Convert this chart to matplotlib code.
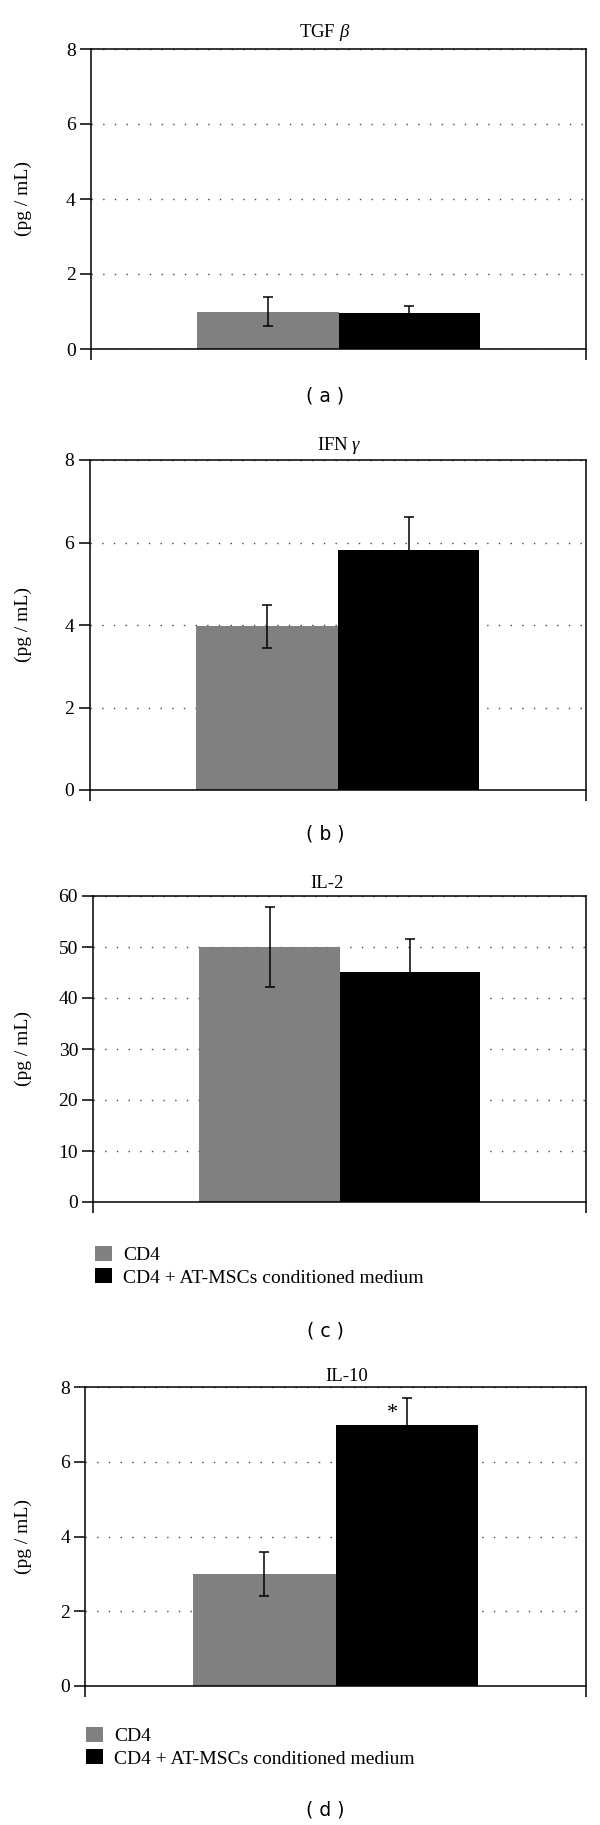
import matplotlib
matplotlib.use("Agg")
import matplotlib.pyplot as plt
from matplotlib.patches import Patch

plt.rcParams['font.family'] = ['Liberation Serif', 'DejaVu Serif']
plt.rcParams['mathtext.fontset'] = 'custom'
plt.rcParams['mathtext.rm'] = 'Liberation Serif'
plt.rcParams['mathtext.it'] = 'Liberation Serif:italic'

# data
groups = ['CD4', 'CD4 + AT-MSCs conditioned medium']
colors = ['#808080', '#000000']

titles = ['TGF $\\it{\\beta}$', 'IFN $\\it{\\gamma}$', 'IL-2', 'IL-10']
panel_tags = ['( a )', '( b )', '( c )', '( d )']

tgf_mean = [1.0, 0.97]
tgf_err = [0.39, 0.18]
ifn_mean = [3.97, 5.82]
ifn_err = [0.52, 0.81]
il2_mean = [50.0, 45.1]
il2_err = [7.8, 6.4]
il10_mean = [3.0, 6.97]
il10_err = [0.58, 0.73]

y_max = [8, 8, 60, 8]
y_step = [2, 2, 10, 2]
show_legend = [False, False, True, True]
stars = [None, None, None, 1]   # which bar carries the asterisk

means = [tgf_mean, ifn_mean, il2_mean, il10_mean]
errs = [tgf_err, ifn_err, il2_err, il10_err]

# layout in pixels (left, top, right, bottom)
W, H = 600, 1825
boxes = [(91, 49, 586, 349), (89.5, 460, 586, 790),
         (93.4, 896, 586, 1202), (85.3, 1387, 586, 1686)]
title_xy = [(325, 37), (339, 450), (327, 888), (347, 1381)]
tag_y = [396, 834, 1331, 1810]
legend_xy = [None, None, (94.6, 1246), (86, 1727)]

fig = plt.figure(figsize=(W / 100, H / 100), dpi=100)

bw = 0.285
for i in range(4):
    l, t, r, b = boxes[i]
    ax = fig.add_axes([l / W, 1 - b / H, (r - l) / W, (b - t) / H])
    xs = [-bw / 2, bw / 2]
    bars = ax.bar(xs, means[i], width=bw, color=colors, zorder=2)
    for k in range(2):
        ax.errorbar(xs[k], means[i][k], yerr=errs[i][k], fmt='none',
                    ecolor='black', elinewidth=1.1, capsize=3.5,
                    capthick=1.1, zorder=3)
    if stars[i] is not None:
        k = stars[i]
        ax.text(xs[k] - 0.03, means[i][k] + errs[i][k] * 0.45, '*',
                ha='center', va='center', fontsize=16, zorder=4)

    ax.set_xlim(-0.5, 0.5)
    ax.set_ylim(0, y_max[i])
    ax.set_yticks(range(0, y_max[i] + 1, y_step[i]))
    ax.set_xticks([-0.5, 0.5])
    ax.set_xticklabels(['', ''])
    ax.tick_params(axis='both', direction='out', length=8, width=1.1,
                   labelsize=14, pad=3, color='black')
    ax.yaxis.grid(True, color='#444444', linewidth=1.0,
                  linestyle=(0, (1, 7.4)), zorder=1)
    ax.set_axisbelow(True)
    for s in ax.spines.values():
        s.set_linewidth(1.1)
        s.set_color('black')
    ax.set_ylabel('(pg / mL)', fontsize=14)
    ax.yaxis.set_label_coords((32 - l) / (r - l), 0.5)

    tx, ty = title_xy[i]
    fig.text(tx / W, 1 - ty / H, titles[i], ha='center', va='baseline',
             fontsize=13.5)
    fig.text(325 / W, 1 - tag_y[i] / H, panel_tags[i], ha='center',
             va='center', fontsize=13.5, family='DejaVu Sans')

    if show_legend[i]:
        lx, ly = legend_xy[i]
        handles = [Patch(facecolor=c, edgecolor='none') for c in colors]
        fig.legend(handles, groups, loc='upper left',
                   bbox_to_anchor=(lx / W, 1 - ly / H),
                   bbox_transform=fig.transFigure, frameon=False,
                   fontsize=14, borderpad=0, borderaxespad=0,
                   handlelength=0.87, handleheight=0.82,
                   handletextpad=0.59, labelspacing=0.2)

fig.savefig('out.png', dpi=100)
plt.close(fig)
